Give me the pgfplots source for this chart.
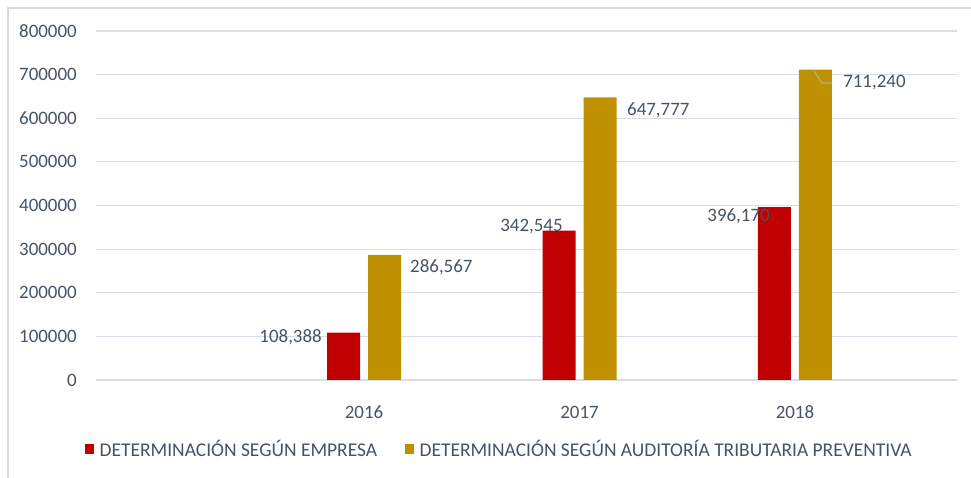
\documentclass[border=0pt]{standalone}
\usepackage{fontspec}
\setmainfont{Carlito}
\usepackage{pgfplots}
\pgfplotsset{compat=1.18}
\definecolor{rojo}{HTML}{C00000}
\definecolor{oro}{HTML}{BF9000}
\definecolor{txt}{HTML}{465366}
\definecolor{grilla}{HTML}{D9DEE6}
\definecolor{borde}{HTML}{D9D9D9}
\begin{document}
\begin{tikzpicture}
\begin{axis}[
  scale only axis,width=645.75pt,height=261.75pt,
  xmin=-0.244,xmax=3.752,ymin=0,ymax=800000,
  ybar=6pt,bar width=24.75pt,
  xtick={1,2,3},xticklabels={2016,2017,2018},
  ytick={0,100000,...,800000},
  scaled y ticks=false,
  /pgf/number format/assume math mode=true,
  yticklabel={\pgfmathprintnumber[fixed,1000 sep={}]{\tick}},
  tick style={draw=none},
  axis line style={draw=none},
  ymajorgrids,grid style={grilla,line width=0.9pt},
  font=\fontsize{14.2}{16}\selectfont,
  every tick label/.append style={text=txt,font=\fontsize{14.2}{16}\selectfont},
  yticklabel style={inner sep=0pt,xshift=-14.25pt},
  xticklabel style={inner sep=0pt,yshift=-15pt},
  legend columns=2,
  legend style={at={(-0.0128,-0.1977)},anchor=west,draw=none,fill=none,inner sep=0pt,
    font=\fontsize{14.6}{16}\selectfont,text=txt,
    /tikz/every even column/.append style={column sep=19pt}},
  legend image code/.code={\fill (0pt,-3.4pt) rectangle (6.8pt,3.4pt);\path (8.8pt,0pt);},
]
\addplot[fill=rojo,draw=none] coordinates {(1,108388) (2,342545) (3,396170)};
\addlegendentry{DETERMINACIÓN SEGÚN EMPRESA}
\addplot[fill=oro,draw=none] coordinates {(1,286567) (2,647777) (3,711240)};
\addlegendentry{DETERMINACIÓN SEGÚN AUDITORÍA TRIBUTARIA PREVENTIVA}
\begin{scope}[every node/.style={inner sep=0pt,text=txt,font=\fontsize{14.2}{16}\selectfont}]
\node[anchor=east] at (axis cs:0.805,98567) {108,388};
\node[anchor=east] at (axis cs:1.923,350716) {342,545};
\node[anchor=east] at (axis cs:2.884,375931) {396,170};
\node[anchor=west] at (axis cs:1.213,259026) {286,567};
\node[anchor=west] at (axis cs:2.220,618911) {647,777};
\node[anchor=west] at (axis cs:3.223,680802) {711,240};
\end{scope}
\draw[borde!80!black,line width=0.8pt] (axis cs:3.088,708309) -- (axis cs:3.125,680802) -- (axis cs:3.172,680802);
\end{axis}
\draw[borde,line width=1pt] (-66pt,-73.5pt) -- (-66pt,279pt) -- (656.25pt,279pt);
\pgfresetboundingbox
\path[use as bounding box] (-72pt,-73.5pt) rectangle (656.25pt,285pt);
\end{tikzpicture}
\end{document}
